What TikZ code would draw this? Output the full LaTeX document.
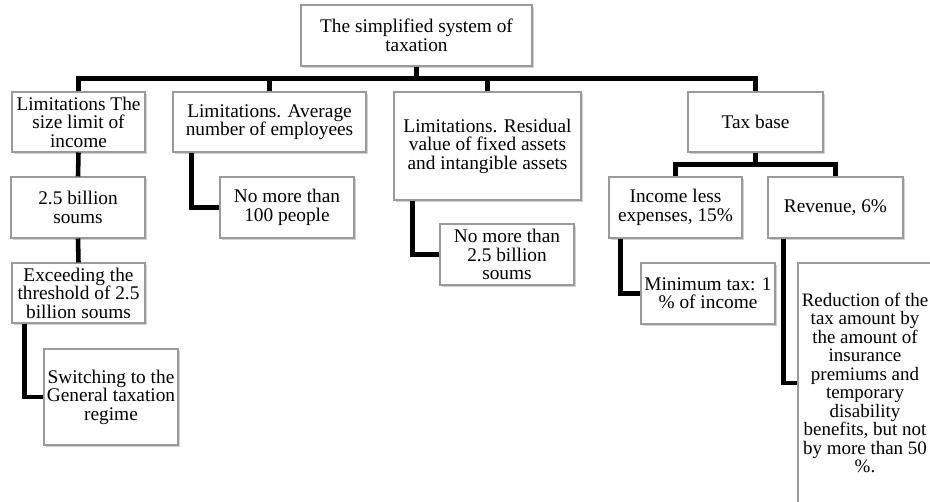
\documentclass[tikz,border=0pt]{standalone}
\usepackage{fontspec}
\setmainfont{Liberation Serif}
\usepackage{tikz}
\usetikzlibrary{shadows}
\definecolor{frame}{HTML}{9A9A9A}
\definecolor{link}{HTML}{000000}

\begin{document}
\begin{tikzpicture}[
  x=0.02cm, y=-0.02cm,
  box/.style={draw=frame,line width=0.6pt,fill=white,align=center,inner sep=1pt,
    font=\fontsize{11}{10.5}\selectfont,
    drop shadow={shadow xshift=1.2pt,shadow yshift=-1.2pt,opacity=0.35},
    minimum width=2.68cm,minimum height=1.22cm},
  tie/.style={link,line width=2.6pt},
]
  \path[use as bounding box,fill=white] (0,0) rectangle (930,502);
  \clip (0,0) rectangle (930,502);

  % Root
  \node[box,minimum width=4.62cm] (root) at (416.5,35.5) {The simplified system of\\taxation};

  % Row 1: limitations and tax base
  \node[box,minimum width=2.66cm,minimum height=1.2cm] (size) at (78.5,122) {Limitations The\\size limit of\\income};
  \node[box,minimum width=3.86cm,minimum height=1.2cm] (staff) at (269.5,122) {Limitations. Average\\number of employees};
  \node[box,minimum width=3.74cm,minimum height=2.16cm] (assets) at (487.5,146) {Limitations. Residual\\value of fixed assets\\and intangible assets};
  \node[box,minimum width=2.7cm,minimum height=1.2cm] (base) at (755.5,122) {Tax base};

  \draw[tie] (root.south) -- ++(0,12) coordinate (bus);
  \draw[tie] (size.north) -- (size.north |- bus) -| (base.north);
  \draw[tie] (staff.north) -- (staff.north |- bus);
  \draw[tie] (assets.north) -- (assets.north |- bus);

  % Size limit branch
  \node[box] (sizeval) at (78,207.5) {2.5 billion\\soums};
  \node[box,minimum width=2.66cm,minimum height=1.2cm] (exceed) at (78.5,293) {Exceeding the\\threshold of 2.5\\billion soums};
  \node[box,minimum height=1.92cm] (switch) at (111,397) {Switching to the\\General taxation\\regime};
  \draw[tie] (size.south) -- (sizeval.north);
  \draw[tie] (sizeval.south) -- (exceed.north);
  \draw[tie] ([xshift=0.26cm]exceed.south west) |- (switch.west);

  % Employees branch
  \node[box] (staffval) at (287,207.5) {No more than\\100 people};
  \draw[tie] ([xshift=0.38cm]staff.south west) |- (staffval.west);

  % Assets branch
  \node[box] (assetsval) at (507,254.5) {No more than\\2.5 billion\\soums};
  \draw[tie] ([xshift=0.38cm]assets.south west) |- (assetsval.west);

  % Tax base branch
  \node[box,minimum width=2.66cm] (income) at (675.5,207.5) {Income less\\expenses, 15\%};
  \node[box,minimum width=2.7cm] (revenue) at (835.5,207.5) {Revenue, 6\%};
  \draw[tie] (base.south) -- ++(0,12) coordinate (taxbus);
  \draw[tie] (income.north) |- (taxbus) -| (revenue.north);

  \node[box] (mintax) at (708,293.5) {Minimum tax: 1\\\% of income};
  \draw[tie] ([xshift=0.24cm]income.south west) |- (mintax.west);

  \node[box,minimum height=4.8cm,font=\fontsize{10.8}{10.5}\selectfont] (reduce) at (865,383) {Reduction of the\\tax amount by\\the amount of\\insurance\\premiums and\\temporary\\disability\\benefits, but not\\by more than 50\\\%.};
  \draw[tie] ([xshift=0.32cm]revenue.south west) |- (reduce.west);
\end{tikzpicture}
\end{document}
